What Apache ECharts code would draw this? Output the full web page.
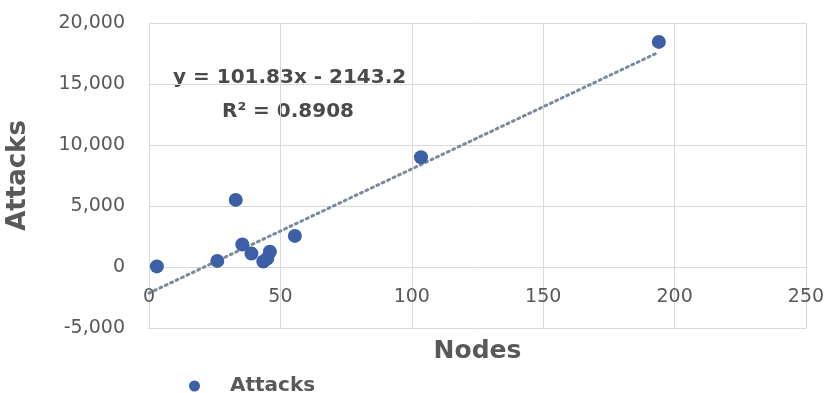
<!DOCTYPE html>
<html>
<head>
<meta charset="utf-8">
<script src="https://cdn.jsdelivr.net/npm/echarts@6/dist/echarts.min.js"></script>
<style>
html,body{margin:0;padding:0;background:#fff;}
#c{width:830px;height:393px;}
</style>
</head>
<body>
<div id="c"></div>
<script>
// Data
const nodes   = [3,   26,  33,   35.5, 39,   43.5, 45,  46,   55.5, 103.5, 194];
const attacks = [50,  500, 5500, 1850, 1100, 450,  700, 1250, 2550, 9000,  18450];
const seriesName = 'Attacks';
const xTitle = 'Nodes';
const yTitle = 'Attacks';
// Trendline shown in the chart label
const slope = 101.83;
const intercept = -2143.2;
const rSquared = '0.8908';
const trendX = [0, 194];

const points = nodes.map((x, i) => [x, attacks[i]]);
const trend = trendX.map(x => [x, slope * x + intercept]);
const labelColor = '#595959';
const gridColor = '#d9d9d9';
const font = 'DejaVu Sans';

const chart = echarts.init(document.getElementById('c'));
chart.setOption({
  animation: false,
  backgroundColor: '#fff',
  grid: {left: 149, right: 24, top: 23, bottom: 65, containLabel: false, outerBoundsMode: 'none'},
  xAxis: {
    type: 'value', min: 0, max: 250, interval: 50,
    name: xTitle, nameLocation: 'middle', nameGap: 11, nameMoveOverlap: false,
    nameTextStyle: {fontFamily: font, fontSize: 25, fontWeight: 'bold', color: labelColor},
    axisLine: {onZero: false, lineStyle: {color: gridColor, width: 1}},
    axisTick: {show: false},
    axisLabel: {margin: -40, fontFamily: font, fontSize: 19, color: labelColor},
    splitLine: {show: true, lineStyle: {color: gridColor, width: 1}}
  },
  yAxis: {
    type: 'value', min: -5000, max: 20000, interval: 5000,
    name: yTitle, nameLocation: 'middle', nameGap: 118, nameRotate: 90,
    nameTextStyle: {fontFamily: font, fontSize: 26, fontWeight: 'bold', color: labelColor},
    axisLine: {show: true, lineStyle: {color: gridColor, width: 1}},
    axisTick: {show: false},
    axisLabel: {margin: 24, fontFamily: font, fontSize: 19, color: labelColor,
      formatter: v => v.toLocaleString('en-US')},
    splitLine: {show: true, lineStyle: {color: gridColor, width: 1}}
  },
  legend: {
    data: [seriesName], left: 184, top: 371,
    itemWidth: 11, itemHeight: 11, itemGap: 10,
    textStyle: {fontFamily: font, fontSize: 20, fontWeight: 'bold', color: labelColor, padding: [0, 0, 0, 25]}
  },
  graphic: [
    {type: 'text', left: 173, top: 68, style: {text: 'y = ' + slope + 'x - ' + Math.abs(intercept),
      font: 'bold 20px "DejaVu Sans"', fill: '#4a4a4a'}},
    {type: 'text', left: 222, top: 102, style: {text: 'R\u00b2 = ' + rSquared,
      font: 'bold 20px "DejaVu Sans"', fill: '#4a4a4a'}}
  ],
  series: [
    {
      name: seriesName, type: 'scatter', data: points, symbolSize: 14,
      itemStyle: {color: '#3c5fa5', opacity: 1}, z: 3
    },
    {
      name: 'Trend', type: 'line', data: trend, showSymbol: false, symbol: 'none',
      lineStyle: {color: '#7d8a99', width: 3, type: [2, 4], cap: 'round'},
      silent: true, z: 2
    }
  ]
});
</script>
</body>
</html>
